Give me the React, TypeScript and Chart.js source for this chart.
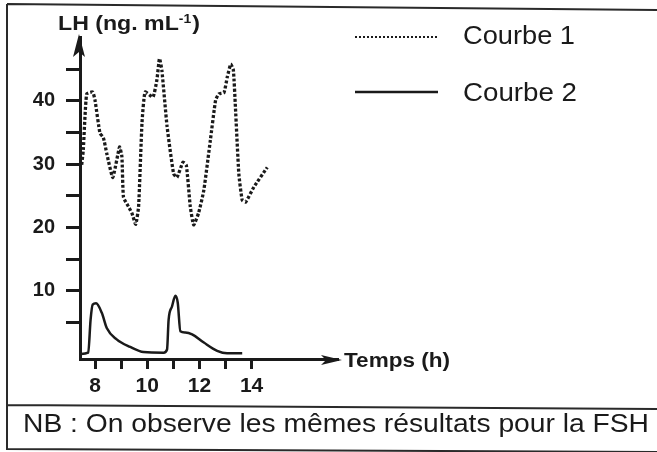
import React, { useEffect, useRef } from "react";
import { Chart, registerables } from "chart.js";

Chart.register(...registerables);

// ---- data ----
const curve1Label = "Courbe 1";
const curve2Label = "Courbe 2";
const yTitle = "LH (ng. mL";
const yTitleSup = "-1";
const xTitle = "Temps (h)";
const note = "NB : On observe les mêmes résultats pour la FSH";

const curve1Hours = [7.49, 7.55, 7.68, 7.91, 8.0, 8.19, 8.32, 8.45, 8.68, 8.94, 9.03, 9.09, 9.28, 9.41, 9.56, 9.67, 9.8, 9.92, 10.22, 10.37, 10.47, 10.56, 10.76, 11.01, 11.14, 11.37, 11.5, 11.65, 11.78, 11.97, 12.17, 12.42, 12.62, 12.74, 12.94, 13.07, 13.2, 13.3, 13.38, 13.51, 13.64, 13.77, 14.09, 14.6];
const curve1Values = [29.9, 32.2, 41.1, 41.4, 40.1, 34.9, 34.2, 31.7, 27.9, 32.7, 31.2, 24.8, 23.3, 22.3, 20.5, 23.3, 36.5, 41.4, 40.6, 43.3, 46.7, 44.9, 36.0, 28.5, 27.9, 30.3, 29.8, 23.3, 20.4, 22.3, 25.9, 33.8, 40.1, 41.1, 41.3, 43.8, 45.8, 44.9, 39.0, 28.5, 24.3, 24.0, 26.4, 29.5];

const curve2Hours = [7.45, 7.74, 7.83, 7.91, 8.04, 8.26, 8.45, 8.83, 9.35, 9.86, 10.63, 10.76, 10.82, 10.95, 11.08, 11.17, 11.27, 11.46, 11.72, 12.17, 12.68, 13.06, 13.64];
const curve2Values = [0.0, 0.2, 5.4, 7.8, 8.0, 6.5, 4.1, 2.3, 1.1, 0.3, 0.2, 0.7, 5.4, 7.5, 9.2, 8.1, 3.6, 3.4, 3.1, 1.8, 0.5, 0.1, 0.1];

const xMin = 7.425;
const xMax = 17.31;
const xTickFirst = 8;
const xTickLast = 14;
const yMin = -0.8;
const yMax = 50.1;
const yTickFirst = 5;
const yTickLast = 45;

const INK = "#1a1a1a";
const FONT = "'Liberation Sans', Arial, sans-serif";

function fitText(ctx: CanvasRenderingContext2D, text: string, x: number, baseline: number, width: number, font: string) {
  ctx.font = font;
  const w = ctx.measureText(text).width;
  ctx.save();
  ctx.translate(x, baseline);
  ctx.scale(width / w, 1);
  ctx.textAlign = "left";
  ctx.textBaseline = "alphabetic";
  ctx.fillText(text, 0, 0);
  ctx.restore();
}

const decor = {
  id: "decor",
  afterDraw(chart: any) {
    const ctx: CanvasRenderingContext2D = chart.ctx;
    const { left, top, right, bottom } = chart.chartArea;
    ctx.save();
    ctx.fillStyle = INK;
    ctx.strokeStyle = "#2a2a2a";

    // frame
    ctx.lineWidth = 2;
    ctx.beginPath();
    ctx.moveTo(7, 4);
    ctx.lineTo(657, 10);
    ctx.moveTo(7, 4);
    ctx.lineTo(7, 449);
    ctx.lineTo(657, 452);
    ctx.moveTo(7, 405);
    ctx.lineTo(657, 409);
    ctx.stroke();

    // y axis arrow
    const ax = left - 1;
    ctx.beginPath();
    ctx.moveTo(ax, top - 3);
    ctx.lineTo(ax - 6, top + 20);
    ctx.lineTo(ax, top + 15);
    ctx.lineTo(ax + 6, top + 20);
    ctx.closePath();
    ctx.fill();

    // x axis arrow
    const ay = bottom + 1;
    ctx.beginPath();
    ctx.moveTo(right + 4, ay);
    ctx.lineTo(right - 17, ay - 5);
    ctx.lineTo(right - 12, ay);
    ctx.lineTo(right - 17, ay + 5);
    ctx.closePath();
    ctx.fill();

    // y title with superscript
    ctx.font = `bold 20px ${FONT}`;
    const mainW = ctx.measureText(yTitle).width;
    ctx.font = `bold 12px ${FONT}`;
    const supW = ctx.measureText(yTitleSup).width;
    ctx.font = `bold 20px ${FONT}`;
    const parW = ctx.measureText(")").width;
    const total = mainW + supW + parW + 1;
    const k = 142 / total;
    ctx.save();
    ctx.translate(58, 30);
    ctx.scale(k, 1);
    ctx.textBaseline = "alphabetic";
    ctx.font = `bold 20px ${FONT}`;
    ctx.fillText(yTitle, 0, 0);
    ctx.font = `bold 12px ${FONT}`;
    ctx.fillText(yTitleSup, mainW, -7);
    ctx.font = `bold 20px ${FONT}`;
    ctx.fillText(")", mainW + supW + 1, 0);
    ctx.restore();

    // x title
    fitText(ctx, xTitle, 344, 367, 106, `bold 20px ${FONT}`);

    // legend
    ctx.strokeStyle = INK;
    ctx.lineWidth = 2;
    ctx.setLineDash([2, 2]);
    ctx.beginPath();
    ctx.moveTo(355, 37);
    ctx.lineTo(438, 37);
    ctx.stroke();
    ctx.setLineDash([]);
    ctx.lineWidth = 2.5;
    ctx.beginPath();
    ctx.moveTo(355, 92);
    ctx.lineTo(438, 92);
    ctx.stroke();
    fitText(ctx, curve1Label, 463, 44, 112, `25px ${FONT}`);
    fitText(ctx, curve2Label, 463, 101, 114, `25px ${FONT}`);

    // note
    fitText(ctx, note, 23, 432, 626, `26px ${FONT}`);

    ctx.restore();
  },
};

export default function App() {
  const ref = useRef<HTMLCanvasElement | null>(null);

  useEffect(() => {
    if (!ref.current) return;
    const d1 = curve1Hours.map((h, i) => ({ x: h, y: curve1Values[i] }));
    const d2 = curve2Hours.map((h, i) => ({ x: h, y: curve2Values[i] }));
    const chart = new Chart(ref.current, {
      type: "line",
      data: {
        datasets: [
          {
            label: curve1Label,
            data: d1,
            borderColor: INK,
            borderWidth: 3.3,
            borderDash: [3, 2],
            borderCapStyle: "butt",
            pointRadius: 0,
            tension: 0.15,
            fill: false,
          },
          {
            label: curve2Label,
            data: d2,
            borderColor: INK,
            borderWidth: 2.5,
            pointRadius: 0,
            cubicInterpolationMode: "monotone",
            fill: false,
          },
        ],
      },
      options: {
        responsive: false,
        animation: false,
        layout: { padding: { left: 0, top: 37, right: 319, bottom: 53 } },
        plugins: {
          legend: { display: false },
          tooltip: { enabled: false },
          title: { display: false },
        },
        scales: {
          x: {
            type: "linear",
            min: xMin,
            max: xMax,
            afterBuildTicks: (scale: any) => {
              scale.ticks = scale.ticks.filter((t: any) => t.value >= xTickFirst && t.value <= xTickLast);
            },
            afterFit: (scale: any) => {
              scale.height = 40;
            },
            ticks: {
              stepSize: 1,
              includeBounds: false,
              autoSkip: false,
              maxRotation: 0,
              padding: 5,
              color: INK,
              font: { family: FONT, size: 21, weight: "bold" },
              callback: (v: any) => (Number(v) % 2 === 0 ? String(v) : ""),
            },
            grid: { drawOnChartArea: false, drawTicks: true, tickLength: 10, tickWidth: 3, tickColor: INK },
            border: { display: true, width: 3, color: INK },
          },
          y: {
            type: "linear",
            min: yMin,
            max: yMax,
            afterBuildTicks: (scale: any) => {
              scale.ticks = scale.ticks.filter((t: any) => t.value >= yTickFirst && t.value <= yTickLast);
            },
            afterFit: (scale: any) => {
              scale.width = 80;
            },
            ticks: {
              stepSize: 5,
              includeBounds: false,
              autoSkip: false,
              padding: 11,
              color: INK,
              font: { family: FONT, size: 20, weight: "bold" },
              callback: (v: any) => (Number(v) % 10 === 0 ? String(v) : ""),
            },
            grid: { drawOnChartArea: false, drawTicks: true, tickLength: 14, tickWidth: 3, tickColor: INK },
            border: { display: true, width: 3, color: INK },
          },
        },
      },
      plugins: [decor],
    });
    return () => chart.destroy();
  }, []);

  return (
    <div style={{ position: "fixed", left: 0, top: 0, width: 657, height: 452, background: "#fff" }}>
      <canvas ref={ref} width={657} height={452} style={{ width: 657, height: 452, display: "block" }} />
    </div>
  );
}
